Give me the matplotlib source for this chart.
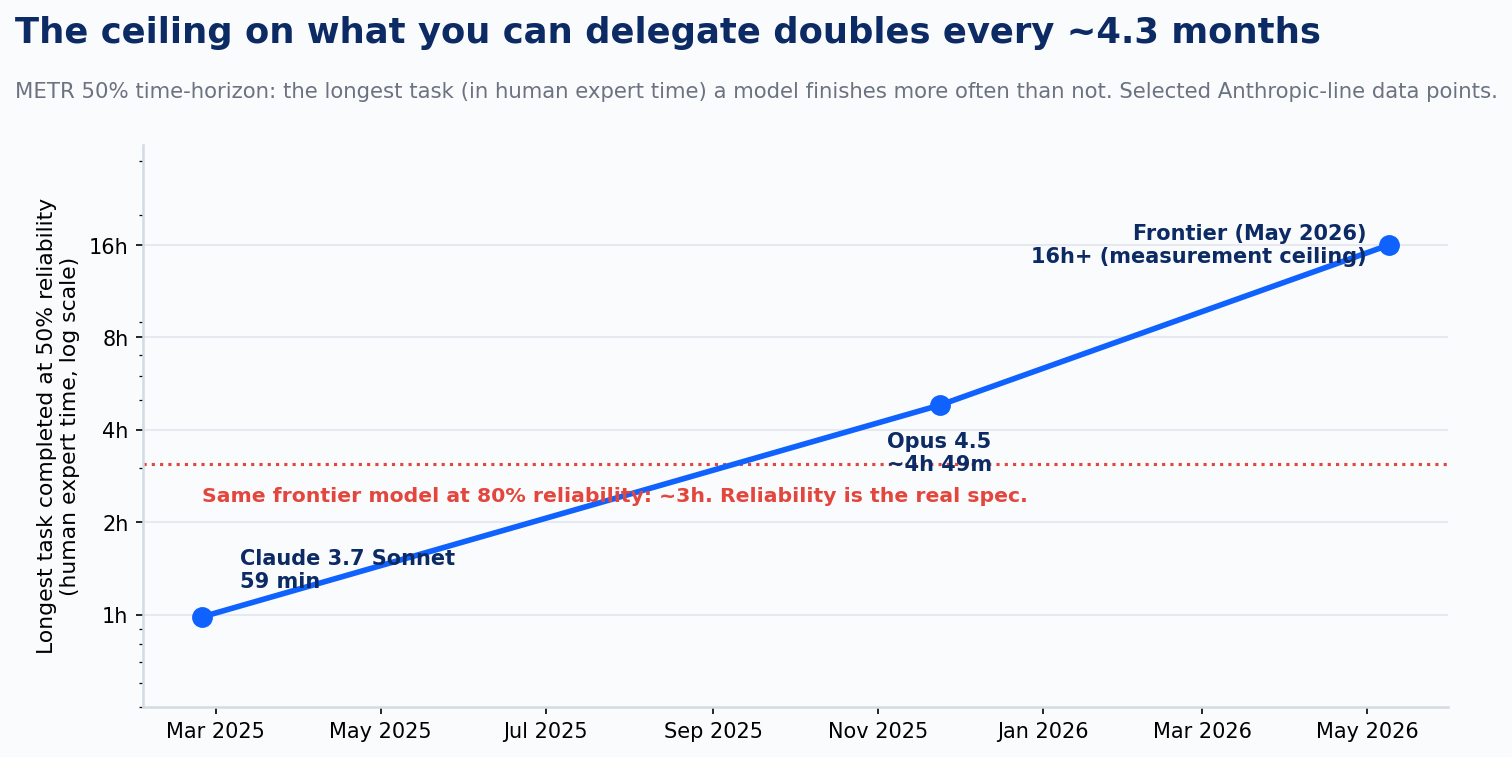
import matplotlib
matplotlib.use("Agg")
import matplotlib.pyplot as plt
import matplotlib.dates as mdates
from matplotlib.ticker import FixedLocator, FixedFormatter, NullFormatter
from datetime import datetime

# METR 50% time horizon, in hours
dates = [datetime(2025, 2, 24), datetime(2025, 11, 24), datetime(2026, 5, 9)]
hours = [59 / 60, 4 + 49 / 60, 16]
point_labels = ["Claude 3.7 Sonnet\n59 min",
                "Opus 4.5\n~4h 49m",
                "Frontier (May 2026)\n16h+ (measurement ceiling)"]
y_ticks = [1, 2, 4, 8, 16]
y_tick_labels = ["1h", "2h", "4h", "8h", "16h"]
hours_80 = 3.1  # same frontier model at 80% reliability

bg = "#fafbfd"
navy = "#0c2a64"
blue = "#0f62fe"
red = "#e2463c"

fig = plt.figure(figsize=(10.08, 5.05), dpi=150, facecolor=bg)
ax = fig.add_axes([143 / 1512, 1 - 707 / 757, (1448 - 143) / 1512, (707 - 145) / 757])
ax.set_facecolor(bg)

ax.plot(dates, hours, color=blue, lw=2.7, marker="o", ms=9, zorder=3)
ax.axhline(hours_80, color=red, lw=1.5, ls=":", zorder=2)

ax.set_yscale("log")
ax.set_ylim(0.5, 34)
ax.yaxis.set_major_locator(FixedLocator(y_ticks))
ax.yaxis.set_major_formatter(FixedFormatter(y_tick_labels))
ax.yaxis.set_minor_formatter(NullFormatter())

ax.xaxis.set_major_locator(mdates.MonthLocator(bymonth=[1, 3, 5, 7, 9, 11]))
ax.xaxis.set_major_formatter(mdates.DateFormatter("%b %Y"))
ax.tick_params(labelsize=10)

ax.yaxis.grid(True, which="major", color="#e6eaf0", lw=1.0)
ax.set_axisbelow(True)
for s in ["top", "right"]:
    ax.spines[s].set_visible(False)
for s in ["left", "bottom"]:
    ax.spines[s].set_color("#d3dae4")
    ax.spines[s].set_linewidth(1.2)

ax.set_ylabel("Longest task completed at 50% reliability\n(human expert time, log scale)",
              fontsize=10.5)

# point labels
ax.annotate(point_labels[0], (dates[0], hours[0]), xytext=(38, 29),
            textcoords="offset pixels", ha="left", va="baseline",
            fontsize=10, fontweight="bold", color=navy)
ax.annotate(point_labels[1], (dates[1], hours[1]), xytext=(-1, -26),
            textcoords="offset pixels", ha="center", va="top",
            fontsize=10, fontweight="bold", color=navy)
ax.annotate(point_labels[2], (dates[2], hours[2]), xytext=(-22, 0),
            textcoords="offset pixels", ha="right", va="center",
            fontsize=10, fontweight="bold", color=navy)
ax.annotate("Same frontier model at 80% reliability: ~3h. Reliability is the real spec.",
            (dates[0], hours_80), xytext=(0, -23), textcoords="offset pixels",
            ha="left", va="top", fontsize=9.8, fontweight="bold", color=red)

fig.text(15 / 1512, 1 - 43 / 757, "The ceiling on what you can delegate doubles every ~4.3 months",
         fontsize=17, fontweight="bold", color=navy, va="baseline")
fig.text(15 / 1512, 1 - 98 / 757,
         "METR 50% time-horizon: the longest task (in human expert time) a model finishes more often than not. Selected Anthropic-line data points.",
         fontsize=10.2, color="#6b7280", va="baseline")

fig.savefig("out.png", dpi=150, facecolor=bg)
